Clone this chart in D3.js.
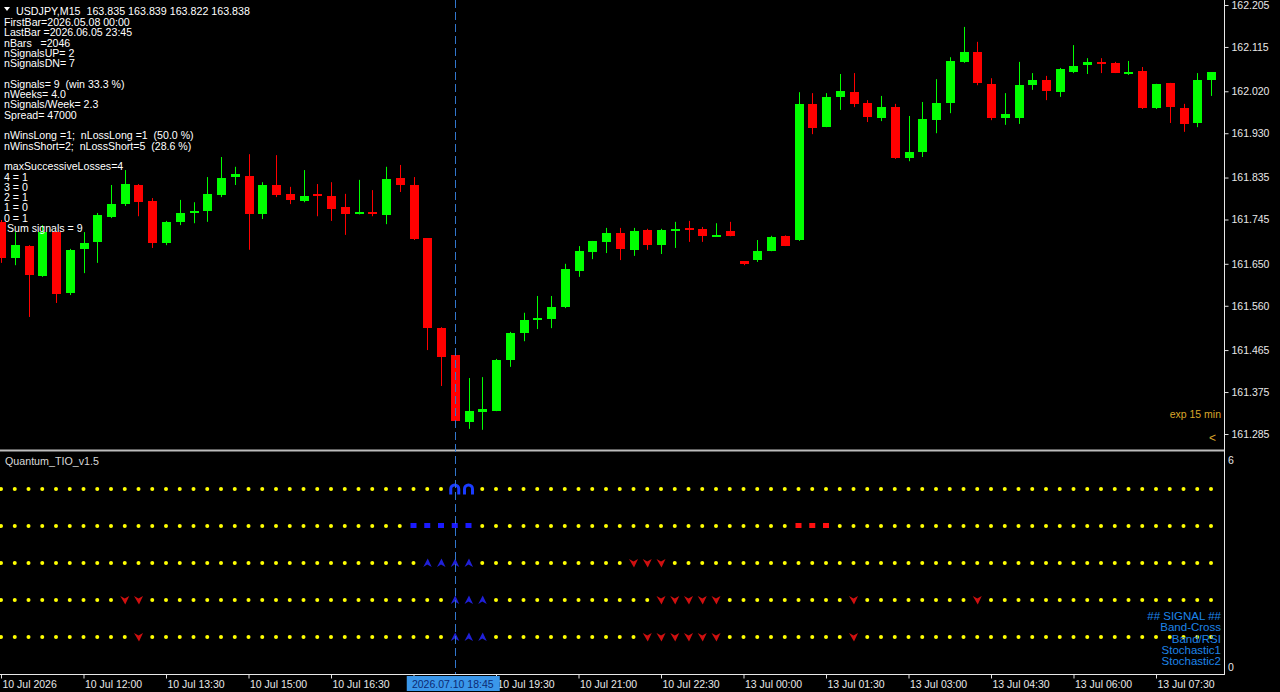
<!DOCTYPE html>
<html>
<head>
<meta charset="utf-8">
<script src="https://cdn.jsdelivr.net/npm/d3@7"></script>
<style>
  html, body { margin: 0; padding: 0; background: #000; overflow: hidden; }
  svg { display: block; }
  text { white-space: pre; }
</style>
</head>
<body>
<svg id="chart" width="1280" height="692"></svg>
<script>
// ---------------- DATA ----------------
const opens  = [161.740,161.662,161.688,161.624,161.718,161.587,161.682,161.697,161.750,161.778,
                161.819,161.785,161.695,161.740,161.760,161.763,161.798,161.836,161.838,161.757,
                161.819,161.800,161.785,161.799,161.795,161.772,161.758,161.761,161.755,161.834,
                161.819,161.705,161.512,161.454,161.311,161.332,161.334,161.444,161.502,161.531,
                161.532,161.557,161.635,161.675,161.697,161.716,161.680,161.723,161.690,161.720,
                161.727,161.725,161.709,161.720,161.655,161.658,161.677,161.710,161.701,161.993,
                161.943,162.008,162.018,161.995,161.963,161.986,161.877,161.890,161.958,161.995,
                162.083,162.104,162.036,161.963,161.963,162.033,162.044,162.018,162.061,162.076,
                162.083,162.081,162.060,162.063,161.984,162.038,161.984,161.952,162.044];
const highs  = [161.744,161.718,161.690,161.733,161.720,161.682,161.718,161.759,161.819,161.851,
                161.821,161.791,161.742,161.787,161.782,161.836,161.879,161.858,161.885,161.825,
                161.883,161.815,161.851,161.821,161.825,161.800,161.830,161.808,161.858,161.862,
                161.836,161.705,161.514,161.469,161.405,161.407,161.446,161.504,161.545,161.581,
                161.581,161.650,161.688,161.699,161.727,161.727,161.727,161.725,161.725,161.740,
                161.742,161.729,161.737,161.740,161.656,161.701,161.710,161.711,162.018,162.016,
                162.016,162.057,162.059,162.001,162.010,161.993,161.967,161.997,162.046,162.093,
                162.158,162.126,162.048,162.016,162.083,162.059,162.053,162.070,162.119,162.091,
                162.091,162.083,162.085,162.072,162.036,162.038,161.993,162.059,162.061];
const lows   = [161.652,161.647,161.536,161.622,161.566,161.583,161.630,161.652,161.748,161.774,
                161.752,161.684,161.690,161.733,161.737,161.740,161.793,161.819,161.680,161.746,
                161.793,161.778,161.782,161.752,161.742,161.712,161.756,161.752,161.735,161.804,
                161.701,161.465,161.388,161.309,161.296,161.294,161.334,161.429,161.484,161.510,
                161.512,161.555,161.622,161.660,161.673,161.658,161.667,161.680,161.671,161.684,
                161.697,161.697,161.709,161.709,161.647,161.654,161.677,161.688,161.699,161.928,
                161.943,161.980,161.986,161.954,161.956,161.875,161.870,161.879,161.930,161.973,
                162.081,162.033,161.958,161.948,161.950,162.023,162.001,162.008,162.059,162.057,
                162.059,162.059,162.055,161.982,161.982,161.952,161.933,161.943,162.010];
const closes = [161.662,161.690,161.626,161.718,161.585,161.680,161.695,161.755,161.778,161.821,
                161.782,161.695,161.740,161.759,161.764,161.800,161.834,161.842,161.757,161.819,
                161.798,161.787,161.796,161.796,161.768,161.757,161.761,161.756,161.832,161.819,
                161.703,161.512,161.450,161.313,161.334,161.339,161.444,161.502,161.530,161.533,
                161.557,161.639,161.677,161.699,161.716,161.682,161.720,161.690,161.723,161.725,
                161.723,161.710,161.712,161.710,161.648,161.677,161.707,161.689,161.993,161.941,
                162.008,162.021,161.993,161.965,161.986,161.877,161.890,161.960,161.995,162.085,
                162.104,162.038,161.963,161.971,162.033,162.044,162.021,162.068,162.074,162.083,
                162.079,162.059,162.062,161.984,162.036,161.986,161.950,162.044,162.061];

const priceTicks = [162.205,162.115,162.020,161.930,161.835,161.745,161.650,161.560,161.465,161.375,161.285];
const timeTickBars = [0,6,12,18,24,30,36,42,48,54,60,66,72,78,84];
// the 18:00 label is hidden under the crosshair time box in the reference
const timeTickLabels = ["10 Jul 2026","10 Jul 12:00","10 Jul 13:30","10 Jul 15:00","10 Jul 16:30",
                        "","10 Jul 19:30","10 Jul 21:00","10 Jul 22:30","13 Jul 00:00",
                        "13 Jul 01:30","13 Jul 03:00","13 Jul 04:30","13 Jul 06:00","13 Jul 07:30"];
const crossBar = 33;
const crossLabel = "2026.07.10 18:45";

const headerText = "USDJPY,M15  163.835 163.839 163.822 163.838";
const statLines = ["FirstBar=2026.05.08 00:00","LastBar =2026.06.05 23:45","nBars   =2046",
  "nSignalsUP= 2","nSignalsDN= 7","","nSignals= 9  (win 33.3 %)","nWeeks= 4.0",
  "nSignals/Week= 2.3","Spread= 47000","","nWinsLong =1;  nLossLong =1  (50.0 %)",
  "nWinsShort=2;  nLossShort=5  (28.6 %)","","maxSuccessiveLosses=4","4 = 1","3 = 0",
  "2 = 1","1 = 0","0 = 1"," Sum signals = 9"];

// indicator rows (level in 0..6 window)
const rowLevels = [5,4,3,2,1];
const signalUp = [33,34];
const bandCrossUp = [30,31,32,33,34];
const bandCrossDn = [58,59,60];
const bandRsiUp = [31,32,33,34];
const bandRsiDn = [46,47,48];
const stoch1Up = [33,34,35];
const stoch1Dn = [9,10,48,49,50,51,52,62,71];
const stoch2Up = [33,34,35];
const stoch2Dn = [10,47,48,49,50,51,52,62];
const legendLines = ["## SIGNAL ##","Band-Cross","Band/RSI","Stochastic1","Stochastic2"];
const indicatorName = "Quantum_TIO_v1.5";
const subScaleLabels = ["6","0"];

// ---------------- LAYOUT ----------------
const svg = d3.select("#chart");
const W = 1280, H = 692;
const plotRight = 1224;
const mainTop = 0, mainBottom = 449;
const subTop = 452, subBottom = 674;

const n = opens.length;
const x = d3.scaleLinear().domain([0, n - 1]).range([1, 1211]);
const y = d3.scaleLinear().domain([161.285, 162.205]).range([434, 5]);
const ys = d3.scaleLinear().domain([0, 6]).range([subBottom, subTop]);

const font = "'Liberation Sans', Arial, sans-serif";

svg.append("rect").attr("width", W).attr("height", H).attr("fill", "#000");

svg.append("defs").append("clipPath").attr("id", "mainClip")
  .append("rect").attr("x", 0).attr("y", mainTop).attr("width", plotRight).attr("height", mainBottom - mainTop);

// ---------------- CANDLES ----------------
const gC = svg.append("g").attr("clip-path", "url(#mainClip)");
const idx = d3.range(n);
gC.selectAll("line.wick").data(idx).join("line")
  .attr("class", "wick")
  .attr("x1", i => Math.round(x(i)) + 0.5).attr("x2", i => Math.round(x(i)) + 0.5)
  .attr("y1", i => y(highs[i])).attr("y2", i => y(lows[i]))
  .attr("stroke", i => closes[i] >= opens[i] ? "#00ff00" : "#ff0000")
  .attr("stroke-width", 1);
gC.selectAll("rect.body").data(idx).join("rect")
  .attr("class", "body")
  .attr("x", i => Math.round(x(i)) - 4)
  .attr("width", 9)
  .attr("y", i => Math.round(y(Math.max(opens[i], closes[i]))))
  .attr("height", i => Math.max(2, Math.round(Math.abs(y(opens[i]) - y(closes[i])))))
  .attr("fill", i => closes[i] >= opens[i] ? "#00ff00" : "#ff0000");

// ---------------- SUB WINDOW ----------------
const gS = svg.append("g");
const rows = [
  {level: rowLevels[0], up: signalUp, dn: [], kind: "arch"},
  {level: rowLevels[1], up: bandCrossUp, dn: bandCrossDn, kind: "square"},
  {level: rowLevels[2], up: bandRsiUp, dn: bandRsiDn, kind: "arrow"},
  {level: rowLevels[3], up: stoch1Up, dn: stoch1Dn, kind: "arrow"},
  {level: rowLevels[4], up: stoch2Up, dn: stoch2Dn, kind: "arrow"}
];
const upArrow = "M0.5,-4.5 L4.5,4 L0,1.5 L-4,4 Z";
const dnArrow = "M-4.5,-4 L0,-1.5 L4.5,-4 L0.5,4.5 Z";
rows.forEach(r => {
  const cy = ys(r.level);
  const plain = idx.filter(i => !r.up.includes(i) && !r.dn.includes(i));
  gS.selectAll(null).data(plain).join("circle")
    .attr("cx", i => x(i)).attr("cy", cy).attr("r", 2).attr("fill", "#ffff00");
  if (r.kind === "arch") {
    gS.selectAll(null).data(r.up).join("path")
      .attr("transform", i => `translate(${x(i)},${cy})`)
      .attr("d", "M-4,5.5 L-4,0 A4,4 0 0 1 4,0 L4,5.5")
      .attr("fill", "none").attr("stroke", "#1a3cff").attr("stroke-width", 3);
  } else if (r.kind === "square") {
    gS.selectAll(null).data(r.up).join("rect")
      .attr("x", i => x(i) - 3).attr("y", cy - 3).attr("width", 6).attr("height", 5).attr("fill", "#1a1aff");
    gS.selectAll(null).data(r.dn).join("rect")
      .attr("x", i => x(i) - 3).attr("y", cy - 3).attr("width", 6).attr("height", 5).attr("fill", "#ff1010");
  } else {
    gS.selectAll(null).data(r.up).join("path")
      .attr("transform", i => `translate(${x(i)},${cy})`)
      .attr("d", upArrow).attr("fill", "#2020d8");
    gS.selectAll(null).data(r.dn).join("path")
      .attr("transform", i => `translate(${x(i)},${cy})`)
      .attr("d", dnArrow).attr("fill", "#d01010");
  }
});

svg.append("text").attr("x", 5).attr("y", 465).attr("fill", "#d8d8d8")
  .attr("font-family", font).attr("font-size", 10.7).text(indicatorName);

svg.append("g").selectAll("text").data(legendLines).join("text")
  .attr("x", 1221).attr("y", (d, i) => 620 + i * 11.25)
  .attr("text-anchor", "end").attr("fill", "#1e84e8")
  .attr("font-family", font).attr("font-size", 11.5).text(d => d);

// ---------------- FRAME LINES ----------------
svg.append("line").attr("x1", 0).attr("x2", plotRight + 1).attr("y1", 450.5).attr("y2", 450.5)
  .attr("stroke", "#bdbdbd").attr("stroke-width", 2);

// crosshair
svg.append("line").attr("x1", Math.round(x(crossBar)) + 0.5).attr("x2", Math.round(x(crossBar)) + 0.5)
  .attr("y1", 0).attr("y2", subBottom)
  .attr("stroke", "#3276cc").attr("stroke-width", 1).attr("stroke-dasharray", "8,4");

// ---------------- PRICE AXIS ----------------
const yAxis = d3.axisRight(y).tickValues(priceTicks).tickFormat(d3.format(".3f")).tickSize(4).tickSizeOuter(0);
const gY = svg.append("g").attr("transform", `translate(${plotRight + 0.5},0)`).call(yAxis);
gY.select(".domain").remove();
gY.selectAll(".tick line").attr("stroke", "#e0e0e0");
gY.selectAll(".tick text").attr("fill", "#e8e8e8").attr("font-family", font).attr("font-size", 10.5).attr("x", 7);

svg.append("line").attr("x1", plotRight + 0.5).attr("x2", plotRight + 0.5).attr("y1", 0).attr("y2", subBottom + 0.5)
  .attr("stroke", "#e8e8e8").attr("stroke-width", 1);

// sub window scale labels
svg.append("text").attr("x", 1228).attr("y", 464).attr("fill", "#e8e8e8")
  .attr("font-family", font).attr("font-size", 10.5).text(subScaleLabels[0]);
svg.append("text").attr("x", 1228).attr("y", 671).attr("fill", "#e8e8e8")
  .attr("font-family", font).attr("font-size", 10.5).text(subScaleLabels[1]);

// ---------------- TIME AXIS ----------------
const xAxis = d3.axisBottom(x).tickValues(timeTickBars)
  .tickFormat((d, i) => timeTickLabels[i]).tickSize(4).tickSizeOuter(0);
const gX = svg.append("g").attr("transform", `translate(0,${subBottom + 0.5})`).call(xAxis);
gX.select(".domain").remove();
gX.selectAll(".tick line").attr("stroke", "#e0e0e0");
gX.selectAll(".tick text").attr("fill", "#e8e8e8").attr("font-family", font).attr("font-size", 10.5)
  .attr("text-anchor", "start").attr("x", 1).attr("dy", null).attr("y", 13.5);
svg.append("line").attr("x1", 0).attr("x2", plotRight + 1).attr("y1", subBottom + 0.5).attr("y2", subBottom + 0.5)
  .attr("stroke", "#e8e8e8").attr("stroke-width", 1);

// crosshair time label
const cx = x(crossBar);
svg.append("rect").attr("x", cx - 48).attr("y", 676).attr("width", 93).attr("height", 15).attr("fill", "#3a97ea");
svg.append("text").attr("x", cx - 2).attr("y", 688).attr("text-anchor", "middle").attr("fill", "#0c2a74")
  .attr("font-family", font).attr("font-size", 10.5).text(crossLabel);

// ---------------- TEXT OVERLAYS ----------------
svg.append("path").attr("d", "M4,7 L10,7 L7,11 Z").attr("fill", "#ffffff");
svg.append("text").attr("x", 16).attr("y", 15).attr("fill", "#ffffff")
  .attr("font-family", font).attr("font-size", 10.7).text(headerText);

svg.append("g").selectAll("text").data(statLines).join("text")
  .attr("x", 4).attr("y", (d, i) => 26 + i * 10.3)
  .attr("fill", "#ffffff").attr("font-family", font).attr("font-size", 10.6).text(d => d);

svg.append("text").attr("x", 1221).attr("y", 418).attr("text-anchor", "end").attr("fill", "#d9a62a")
  .attr("font-family", font).attr("font-size", 10.5).text("exp 15 min");
svg.append("text").attr("x", 1209).attr("y", 442).attr("fill", "#d9a62a")
  .attr("font-family", font).attr("font-size", 12).text("<");
</script>
</body>
</html>
